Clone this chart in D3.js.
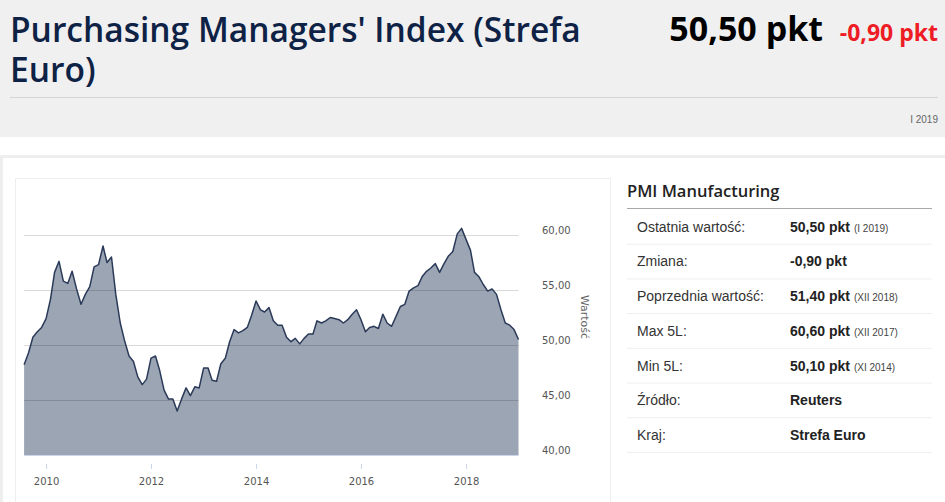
<!DOCTYPE html>
<html>
<head>
<meta charset="utf-8">
<script src="https://cdn.jsdelivr.net/npm/d3@7"></script>
<style>
  body { margin: 0; background: #fff; }
  svg { display: block; }
</style>
</head>
<body>
<div id="page"></div>
<script>
// monthly PMI readings, Aug 2009 .. Jan 2019
var startMonth = "2009-08";
var values = [
  48.2, 49.3, 50.7, 51.2, 51.6,
  52.4, 54.2, 56.6, 57.6, 55.8, 55.6, 56.7, 55.1, 53.7, 54.6, 55.3, 57.1,
  57.3, 59.0, 57.5, 58.0, 54.6, 52.0, 50.4, 49.0, 48.5, 47.1, 46.4, 46.9,
  48.8, 49.0, 47.7, 45.9, 45.1, 45.1, 44.0, 45.1, 46.1, 45.4, 46.2, 46.1,
  47.9, 47.9, 46.8, 46.7, 48.3, 48.8, 50.3, 51.4, 51.1, 51.3, 51.6, 52.7,
  54.0, 53.2, 53.0, 53.4, 52.2, 51.8, 51.8, 50.7, 50.3, 50.6, 50.1, 50.6,
  51.0, 51.0, 52.2, 52.0, 52.2, 52.5, 52.4, 52.3, 52.0, 52.3, 52.8, 53.2,
  52.3, 51.2, 51.6, 51.7, 51.5, 52.8, 52.0, 51.7, 52.6, 53.5, 53.7, 54.9,
  55.2, 55.4, 56.2, 56.7, 57.0, 57.4, 56.6, 57.4, 58.1, 58.5, 60.1, 60.6,
  59.6, 58.6, 56.6, 56.2, 55.5, 54.9, 55.1, 54.6, 53.2, 52.0, 51.8, 51.4,
  50.5
];
var yTicks = [40, 45, 50, 55, 60];
var xTickYears = [2010, 2012, 2014, 2016, 2018];

var titleLines = ["Purchasing Managers' Index (Strefa", "Euro)"];
var lastValue = "50,50 pkt";
var lastChange = "-0,90 pkt";
var lastPeriod = "I 2019";
var panelTitle = "PMI Manufacturing";
var rowLabels = ["Ostatnia wartość:", "Zmiana:", "Poprzednia wartość:", "Max 5L:", "Min 5L:", "Źródło:", "Kraj:"];
var rowValues = ["50,50 pkt", "-0,90 pkt", "51,40 pkt", "60,60 pkt", "50,10 pkt", "Reuters", "Strefa Euro"];
var rowNotes = ["(I 2019)", "", "(XII 2018)", "(XII 2017)", "(XI 2014)", "", ""];

var parseMonth = d3.timeParse("%Y-%m");
var t0 = parseMonth(startMonth);
var data = values.map(function(v, i) {
  return { date: d3.timeMonth.offset(t0, i), value: v };
});

var W = 945, H = 502;
var svg = d3.select("#page").append("svg")
    .attr("width", W)
    .attr("height", H);

// ---- header band
svg.append("rect").attr("x", 0).attr("y", 0).attr("width", W).attr("height", 137).attr("fill", "#f0f0f0");

svg.selectAll(".title")
    .data(titleLines)
  .enter().append("text")
    .attr("class", "title")
    .attr("x", 10)
    .attr("y", function(d, i) { return 42 + i * 40; })
    .attr("font-family", "Open Sans, sans-serif")
    .attr("font-weight", 600)
    .attr("font-size", 33.5)
    .attr("fill", "#0e2245")
    .text(function(d) { return d; });

svg.append("text")
    .attr("x", 823).attr("y", 41)
    .attr("text-anchor", "end")
    .attr("font-family", "Open Sans, sans-serif")
    .attr("font-weight", "bold")
    .attr("font-size", 34)
    .attr("fill", "#000")
    .text(lastValue);

svg.append("text")
    .attr("x", 938).attr("y", 41)
    .attr("text-anchor", "end")
    .attr("font-family", "Open Sans, sans-serif")
    .attr("font-weight", "bold")
    .attr("font-size", 23)
    .attr("fill", "#ee1c25")
    .text(lastChange);

svg.append("line")
    .attr("x1", 10).attr("x2", 938).attr("y1", 97.5).attr("y2", 97.5)
    .attr("stroke", "#d4d4d4");

svg.append("text")
    .attr("x", 938).attr("y", 123)
    .attr("text-anchor", "end")
    .attr("font-family", "Liberation Sans, Arial, sans-serif")
    .attr("font-size", 10)
    .attr("fill", "#666")
    .text(lastPeriod);

// ---- outer boxes
svg.append("rect")
    .attr("x", 1.5).attr("y", 156.5).attr("width", W + 5).attr("height", 360)
    .attr("fill", "none").attr("stroke", "#eeeeee").attr("stroke-width", 3);

svg.append("rect")
    .attr("x", 15.5).attr("y", 178.5).attr("width", 595).attr("height", 340)
    .attr("fill", "none").attr("stroke", "#eeeeee");

// ---- chart
var x = d3.scaleTime()
    .domain([data[0].date, data[data.length - 1].date])
    .range([24.1, 518.5]);
var y = d3.scaleLinear()
    .domain([40, 60])
    .range([455, 235]);

var area = d3.area()
    .x(function(d) { return x(d.date); })
    .y0(y(40))
    .y1(function(d) { return y(d.value); });
var line = d3.line()
    .x(function(d) { return x(d.date); })
    .y(function(d) { return y(d.value); });

svg.append("path")
    .datum(data)
    .attr("d", area)
    .attr("fill", "#7b879a")
    .attr("fill-opacity", 0.75);

// grid drawn over the area so it shows darker inside
svg.append("g")
    .attr("transform", "translate(" + x.range()[1] + ",0)")
    .call(d3.axisLeft(y).tickValues(yTicks.slice(1)).tickSize(x.range()[1] - x.range()[0]).tickFormat(""))
    .call(function(g) {
      g.select(".domain").remove();
      g.selectAll(".tick line").attr("stroke", "#000").attr("stroke-opacity", 0.15);
    });

svg.append("path")
    .datum(data)
    .attr("d", line)
    .attr("fill", "none")
    .attr("stroke", "#2a3a58")
    .attr("stroke-width", 1.5)
    .attr("stroke-linejoin", "round");

// x axis
var xAxis = svg.append("g")
    .attr("transform", "translate(0," + y(40) + ")")
    .call(d3.axisBottom(x)
      .tickValues(xTickYears.map(function(yr) { return new Date(yr, 0, 1); }))
      .tickFormat(d3.timeFormat("%Y"))
      .tickSizeInner(0)
      .tickSizeOuter(0)
      .tickPadding(30));
xAxis.select(".domain").attr("stroke", "#ccd6eb").attr("d", "M" + x.range()[0] + ",0.5H" + x.range()[1]);
xAxis.selectAll(".tick line")
    .attr("y1", 9).attr("y2", 14)
    .attr("stroke", "#ccd6eb");
xAxis.selectAll(".tick text")
    .attr("dy", 0)
    .attr("font-family", "DejaVu Sans, sans-serif")
    .attr("font-size", 10)
    .attr("fill", "#555");

// y axis labels on the right
var yAxis = svg.append("g")
    .attr("transform", "translate(542,0)")
    .call(d3.axisRight(y)
      .tickValues(yTicks)
      .tickFormat(function(d) { return d3.format(".2f")(d).replace(".", ","); })
      .tickSize(0)
      .tickPadding(0));
yAxis.select(".domain").remove();
yAxis.selectAll(".tick text")
    .attr("dy", "-0.2em")
    .attr("font-family", "DejaVu Sans, sans-serif")
    .attr("font-size", 10)
    .attr("fill", "#555");

svg.append("text")
    .attr("transform", "translate(581,317) rotate(90)")
    .attr("text-anchor", "middle")
    .attr("font-family", "DejaVu Sans, sans-serif")
    .attr("font-size", 11)
    .attr("fill", "#666")
    .text("Wartość");

// ---- right panel
svg.append("text")
    .attr("x", 627).attr("y", 197)
    .attr("font-family", "Open Sans, sans-serif")
    .attr("font-weight", 600)
    .attr("font-size", 16.5)
    .attr("fill", "#222")
    .text(panelTitle);

svg.append("line")
    .attr("x1", 627).attr("x2", 932).attr("y1", 208.5).attr("y2", 208.5)
    .attr("stroke", "#a8a8a8");

var rowStep = 34.7;
var rows = svg.selectAll(".row")
    .data(rowLabels)
  .enter().append("g")
    .attr("class", "row")
    .attr("transform", function(d, i) { return "translate(0," + (231.7 + i * rowStep) + ")"; });

rows.append("text")
    .attr("x", 637)
    .attr("font-family", "Liberation Sans, Arial, sans-serif")
    .attr("font-size", 14)
    .attr("fill", "#333")
    .text(function(d) { return d; });

var vt = rows.append("text")
    .attr("x", 790)
    .attr("font-family", "Liberation Sans, Arial, sans-serif")
    .attr("fill", "#222");
vt.append("tspan")
    .attr("font-weight", "bold")
    .attr("font-size", 14)
    .text(function(d, i) { return rowValues[i]; });
vt.append("tspan")
    .attr("font-size", 10)
    .attr("fill", "#444")
    .attr("dx", 4)
    .text(function(d, i) { return rowNotes[i]; });

rows.append("line")
    .attr("x1", 627).attr("x2", 932)
    .attr("y1", 12.5).attr("y2", 12.5)
    .attr("stroke", "#eeeeee");
</script>
</body>
</html>
